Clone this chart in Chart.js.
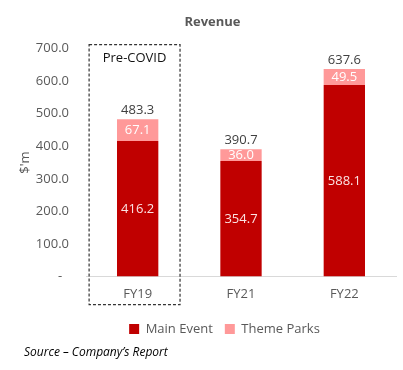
<!DOCTYPE html>
<html>
<head>
<meta charset="utf-8">
<script src="https://cdn.jsdelivr.net/npm/chart.js@4.4.0/dist/chart.umd.min.js"></script>
<style>
  html, body { margin: 0; padding: 0; background: #fff; }
  #wrap { width: 403px; height: 370px; }
</style>
</head>
<body>
<div id="wrap"><canvas id="revenue"></canvas></div>
<script>
// chart data
const years = ['FY19', 'FY21', 'FY22']
const mainEvent = [416.2, 354.7, 588.1]
const themeParks = [67.1, 36.0, 49.5]
const yTicks = [0, 100, 200, 300, 400, 500, 600, 700]
const highlightLabel = 'Pre-COVID'
const sourceText = 'Source \u2013 Company\u2019s Report'

Chart.defaults.font.family = '"Open Sans", sans-serif'
Chart.defaults.font.size = 13
Chart.defaults.color = '#595959'

// value labels inside the segments and totals above the stacks
const barLabels = {
  id: 'barLabels',
  afterDatasetsDraw(chart) {
    const ctx = chart.ctx
    ctx.save()
    ctx.font = '13px "Open Sans"'
    ctx.textAlign = 'center'
    ctx.textBaseline = 'middle'
    chart.data.datasets.forEach((ds, i) => {
      chart.getDatasetMeta(i).data.forEach((bar, j) => {
        ctx.fillStyle = i === 0 ? '#fbe3e3' : '#ffffff'
        ctx.fillText(ds.data[j].toFixed(1), bar.x, (bar.y + bar.base) / 2)
      })
    })
    const tops = chart.getDatasetMeta(1).data
    years.forEach((y, j) => {
      const total = mainEvent[j] + themeParks[j]
      ctx.fillStyle = '#404040'
      ctx.fillText(total.toFixed(1), tops[j].x, tops[j].y - 9)
    })
    ctx.restore()
  }
}

// dashed box around the pre-covid year
const preCovidBox = {
  id: 'preCovidBox',
  afterDraw(chart) {
    const { ctx, chartArea, scales } = chart
    const x = scales.x.getPixelForValue(0)
    const w = scales.x.getPixelForValue(1) - x
    const left = x - w * 0.47
    const right = x + w * 0.41
    const top = chartArea.top - 4
    const bottom = chartArea.bottom + 28
    ctx.save()
    ctx.setLineDash([3, 2])
    ctx.strokeStyle = '#333333'
    ctx.lineWidth = 1.2
    ctx.strokeRect(left, top, right - left, bottom - top)
    ctx.setLineDash([])
    ctx.fillStyle = '#111111'
    ctx.font = '13px "Open Sans"'
    ctx.textAlign = 'center'
    ctx.textBaseline = 'middle'
    ctx.fillText(highlightLabel, (left + right) / 2, top + 14)
    ctx.restore()
  }
}

// nudge title, legend and source line sideways like the original
const shiftBoxes = {
  id: 'shiftBoxes',
  afterLayout(chart) {
    chart.boxes.forEach(b => {
      let dx = 0
      if (b === chart.legend) dx = 20
      else if (b === chart.titleBlock) dx = 8
      else if (b.options && b.options.text === sourceText) dx = 11
      b.left += dx
      b.right += dx
    })
  }
}

new Chart(document.getElementById('revenue'), {
  type: 'bar',
  data: {
    labels: years,
    datasets: [
      {
        label: 'Main Event',
        data: mainEvent,
        backgroundColor: '#C00000'
      },
      {
        label: 'Theme Parks',
        data: themeParks,
        backgroundColor: '#FF9999'
      }
    ]
  },
  options: {
    responsive: true,
    maintainAspectRatio: false,
    animation: false,
    layout: { padding: { left: 13, right: 7, top: 0, bottom: 0 } },
    datasets: { bar: { categoryPercentage: 1, barPercentage: 0.4 } },
    scales: {
      x: {
        stacked: true,
        grid: { display: false, drawTicks: false },
        border: { display: true, color: '#d9d9d9', width: 1 },
        ticks: { padding: 10, color: '#595959' },
        afterFit: axis => { axis.height = 34 }
      },
      y: {
        stacked: true,
        min: 0,
        max: 700,
        afterBuildTicks: axis => { axis.ticks = yTicks.map(v => ({ value: v })) },
        afterFit: axis => { axis.width = 73 },
        grid: { display: false, drawTicks: false },
        border: { display: false },
        ticks: {
          padding: 17,
          color: '#595959',
          callback: v => v === 0 ? '-  ' : v.toFixed(1)
        },
        title: { display: true, text: "$'m", color: '#595959', padding: { top: 4, bottom: 4 } }
      }
    },
    plugins: {
      title: {
        display: true,
        text: 'Revenue',
        font: { size: 13, weight: 'bold' },
        color: '#595959',
        padding: { top: 14, bottom: 19 }
      },
      subtitle: {
        display: true,
        position: 'bottom',
        align: 'start',
        text: sourceText,
        font: { size: 12, style: 'italic' },
        color: '#000000',
        padding: { top: 0, bottom: 10 }
      },
      legend: {
        position: 'bottom',
        labels: { boxWidth: 10, boxHeight: 10, padding: 12, color: '#595959' }
      },
      tooltip: { enabled: false }
    }
  },
  plugins: [barLabels, preCovidBox, shiftBoxes]
})
</script>
</body>
</html>
